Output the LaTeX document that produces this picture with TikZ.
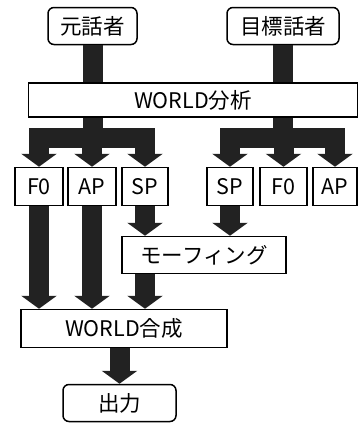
\documentclass[tikz,border=0pt]{standalone}
\usepackage{fontspec}
\setmainfont{Noto Sans CJK JP}
\usetikzlibrary{arrows.meta}
\definecolor{arrowgray}{HTML}{222222}
\tikzset{
  box/.style={draw=black, line width=1.5pt, fill=white, inner sep=0pt, font=\fontsize{21.5}{25}\selectfont},
  rbox/.style={box, rounded corners=6pt},
  shaft/.style={draw=arrowgray, line width=20pt},
  hbar/.style={shaft, line cap=rect},
  fatarrow/.style={shaft, -{Triangle[width=35pt,length=13pt]}, arrowgray}
}
\begin{document}
\begin{tikzpicture}[x=1pt,y=-1pt]
\useasboundingbox (0,0) rectangle (359,423);
% nodes
\node[rbox, minimum width=89pt, minimum height=37pt] (src) at (92.5,26) {元話者};
\node[rbox, minimum width=112pt, minimum height=37pt] (tgt) at (283,26) {目標話者};
\node[box, minimum width=329pt, minimum height=34pt] (ana) at (193,100) {WORLD分析};
\node[box, minimum width=48pt, minimum height=38pt] (f0l) at (39,186.5) {F0};
\node[box, minimum width=48pt, minimum height=38pt] (apl) at (92,186.5) {AP};
\node[box, minimum width=46pt, minimum height=38pt] (spl) at (145,186.5) {SP};
\node[box, minimum width=46pt, minimum height=38pt] (spr) at (230,186.5) {SP};
\node[box, minimum width=47pt, minimum height=38pt] (f0r) at (283.5,186.5) {F0};
\node[box, minimum width=44pt, minimum height=38pt] (apr) at (335,186.5) {AP};
\node[box, minimum width=164pt, minimum height=37pt] (mor) at (204,255) {モーフィング};
\node[box, minimum width=206pt, minimum height=38pt] (syn) at (124,328.5) {WORLD合成};
\node[rbox, minimum width=113pt, minimum height=37pt] (out) at (119.5,403) {出力};
% bar levels
\coordinate (barL) at (0,138);
% top feeds
\draw[shaft] (src.south) -- (src.south |- ana.north);
\draw[shaft] (tgt.south) -- (tgt.south |- ana.north);
% branches left
\draw[shaft] (ana.south -| src.south) -- (src.south |- barL);
\draw[hbar] (f0l.north |- barL) -- (spl.north |- barL);
\draw[fatarrow] (f0l.north |- barL) -- (f0l.north);
\draw[fatarrow] (apl.north |- barL) -- (apl.north);
\draw[fatarrow] (spl.north |- barL) -- (spl.north);
% branches right
\draw[shaft] (ana.south -| tgt.south) -- (tgt.south |- barL);
\draw[hbar] (spr.north |- barL) -- (apr.north |- barL);
\draw[fatarrow] (spr.north |- barL) -- (spr.north);
\draw[fatarrow] (f0r.north |- barL) -- (f0r.north);
\draw[fatarrow] (apr.north |- barL) -- (apr.north);
% lower arrows
\draw[fatarrow] (f0l.south) -- (f0l.south |- syn.north);
\draw[fatarrow] (apl.south) -- (apl.south |- syn.north);
\draw[fatarrow] (spl.south) -- (spl.south |- mor.north);
\draw[fatarrow] (spr.south) -- (spr.south |- mor.north);
\draw[fatarrow] (mor.south -| spl.south) -- (spl.south |- syn.north);
\draw[fatarrow] (syn.south -| out.north) -- (out.north);
\end{tikzpicture}
\end{document}
